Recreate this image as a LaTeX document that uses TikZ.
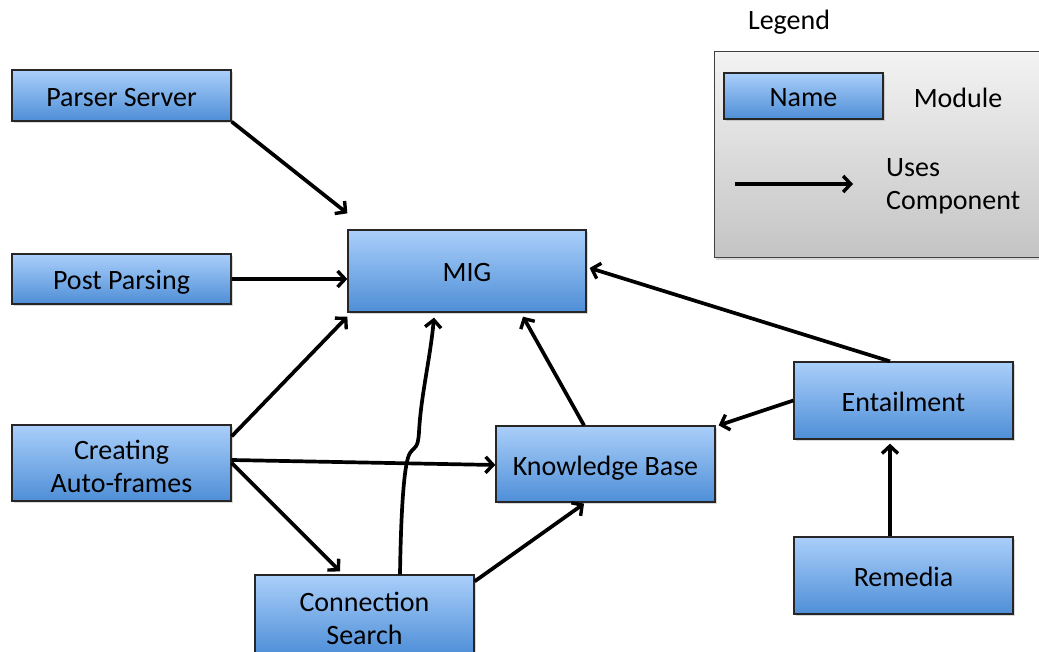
\documentclass[tikz,border=0pt]{standalone}
\usepackage{fontspec}
\setmainfont{Carlito}
\usetikzlibrary{arrows.meta,shadows,calc}

\definecolor{boxtop}{HTML}{AACFFA}
\definecolor{boxbot}{HTML}{4E8ED7}
\definecolor{legtop}{HTML}{F3F3F3}
\definecolor{legbot}{HTML}{C4C4C4}

\tikzset{
  modbox/.style={draw=black!85, line width=1.3pt, top color=boxtop, bottom color=boxbot,
    drop shadow={shadow xshift=1.5pt, shadow yshift=-2pt, opacity=0.3},
    minimum width=219pt, align=center, inner sep=0pt,
    font=\fontsize{28}{33}\selectfont},
  oneline/.style={text height=25pt, text depth=3pt},
  twoline/.style={text height=59pt, text depth=0pt},
  legendbox/.style={draw=black!75, line width=1.3pt, top color=legtop, bottom color=legbot,
    drop shadow={shadow xshift=1.5pt, shadow yshift=-2pt, opacity=0.3}},
  plain/.style={font=\fontsize{28}{33}\selectfont, inner sep=0pt, align=left},
  uses/.style={-{Straight Barb[length=7.5pt,width=16pt,line width=3.4pt]}, line width=3.7pt}
}

\begin{document}
\begin{tikzpicture}[x=1pt, y=-1pt]
\useasboundingbox (0,0) rectangle (1039,652);

% legend panel
\node[legendbox, minimum width=331pt, minimum height=206pt, anchor=north west] (leg) at (714,51) {};
\node[plain] (legtitle) at (789,22) {Legend};
\node[modbox, oneline, minimum width=159pt, minimum height=46pt] (legmod) at (803.5,96) {Name};
\node[plain] (legmodtxt) at (958,98) {Module};
\coordinate (legA) at (735,184);
\coordinate (legB) at (853,184);
\draw[uses] (legA) -- (legB);
\node[plain, anchor=west] (legusetxt) at (886,186) {Uses\\Component};

% modules
\node[modbox, oneline, minimum height=51pt] (ps) at (121.5,95.5) {Parser Server};
\node[modbox, oneline, minimum height=50pt] (pp) at (121.5,279) {Post Parsing};
\node[modbox, twoline, minimum height=76pt] (caf) at (121.5,463) {Creating\\Auto-frames};
\node[modbox, oneline, minimum width=238pt, minimum height=82pt] (mig) at (467,271) {MIG};
\node[modbox, oneline, minimum height=76pt] (kb) at (605.5,464) {Knowledge Base};
\node[modbox, oneline, minimum height=77pt] (ent) at (903.5,400.5) {Entailment};
\node[modbox, oneline, minimum height=77pt] (rem) at (903.5,575.5) {Remedia};
\node[modbox, twoline, minimum height=80pt] (cs) at (364.5,615) {Connection\\Search};

% uses-component links
\draw[uses] (ps.south east) -- ([yshift=16pt]mig.north west);
\draw[uses] (pp.east) -- (pp.east -| mig.west);
\draw[uses] ([yshift=-12pt]caf.north east) -- ([yshift=-4pt]mig.south west);
\draw[uses] ([yshift=3pt]caf.east) -- ([yshift=-1pt]kb.west);
\draw[uses] (caf.east) -- ([xshift=-24.5pt,yshift=3pt]cs.north);
\draw[uses] ([xshift=35.5pt]cs.north)
  .. controls (401,510) and (404,462) .. (410,453)
  .. controls (415,446) and (418,449) .. (419,432)
  .. controls (421,395) and (430,360) .. ([xshift=-33pt,yshift=-5pt]mig.south);
\draw[uses] ([yshift=-7pt]cs.north east) -- ([xshift=-21.5pt,yshift=-1pt]kb.south);
\draw[uses] ([xshift=-21.5pt]kb.north) -- ([xshift=56pt,yshift=-4pt]mig.south);
\draw[uses] ([xshift=-13.5pt]ent.north) -- ([xshift=3pt,yshift=3pt]mig.east);
\draw[uses] (ent.west) -- ([xshift=3pt]kb.north east);
\draw[uses] ([xshift=-13.5pt]rem.north) -- ([xshift=-13.5pt,yshift=-4pt]ent.south);
\end{tikzpicture}
\end{document}
